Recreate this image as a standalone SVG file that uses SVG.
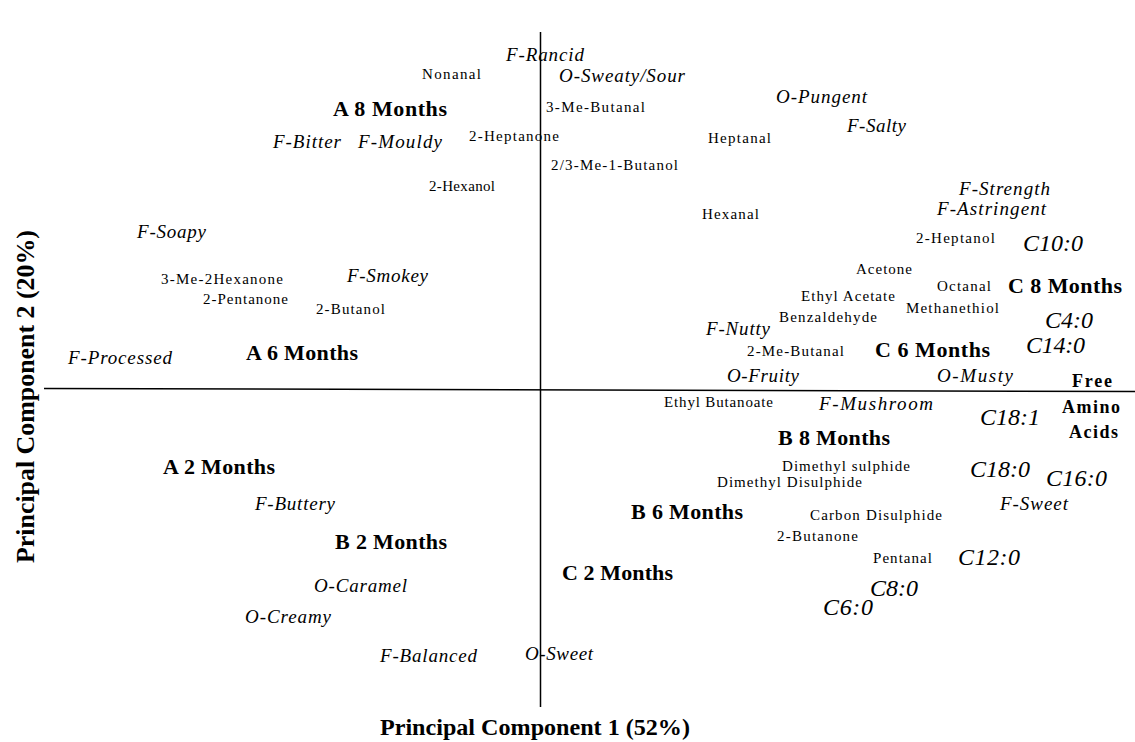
<svg xmlns="http://www.w3.org/2000/svg" width="1135" height="742" viewBox="0 0 1135 742">
<style>
text{font-family:"Liberation Serif","Times New Roman",serif;fill:#000}
.cmp{font-size:15px}
.att{font-size:19px;font-style:italic}
.fa{font-size:24px;font-style:italic}
.grp{font-size:22px;font-weight:bold}
.aa{font-size:18px;font-weight:bold}
.ax{font-size:24px;font-weight:bold}
.axis{stroke:#000;stroke-width:1.5;fill:none}
</style>
<rect width="1135" height="742" fill="#fff"/>
<g id="connectors">
<line class="axis" x1="540.5" y1="32" x2="540.5" y2="707"/>
<line class="axis" x1="44" y1="388.5" x2="1135" y2="391.5"/>
</g>
<g id="axis-x-title"><text class="ax" x="380" y="735" textLength="310" lengthAdjust="spacingAndGlyphs">Principal Component 1 (52%)</text></g>
<g id="axis-y-title"><text class="ax" transform="translate(34,396.5) rotate(-90)" x="0" y="0" text-anchor="middle" style="font-size:26px" textLength="333" lengthAdjust="spacingAndGlyphs">Principal Component 2 (20%)</text></g>

<g id="F-Rancid"><text class="att" x="506" y="61" textLength="78">F-Rancid</text></g>
<g id="Nonanal"><text class="cmp" x="422" y="79" textLength="59">Nonanal</text></g>
<g id="O-Sweaty-Sour"><text class="att" x="559" y="82" textLength="126">O-Sweaty/Sour</text></g>
<g id="A8"><text class="grp" x="333" y="116" textLength="114">A 8 Months</text></g>
<g id="Me3-Butanal"><text class="cmp" x="546" y="112" textLength="99">3-Me-Butanal</text></g>
<g id="O-Pungent"><text class="att" x="776" y="103" textLength="91">O-Pungent</text></g>
<g id="F-Bitter"><text class="att" x="273" y="148" textLength="68">F-Bitter</text></g>
<g id="F-Mouldy"><text class="att" x="358" y="148" textLength="84">F-Mouldy</text></g>
<g id="Heptanone2"><text class="cmp" x="469" y="141" textLength="90">2-Heptanone</text></g>
<g id="Heptanal"><text class="cmp" x="708" y="143" textLength="63">Heptanal</text></g>
<g id="F-Salty"><text class="att" x="847" y="132" textLength="59">F-Salty</text></g>
<g id="Me-Butanol"><text class="cmp" x="551" y="170" textLength="127">2/3-Me-1-Butanol</text></g>
<g id="Hexanol2"><text class="cmp" x="429" y="191" textLength="66">2-Hexanol</text></g>
<g id="F-Strength"><text class="att" x="959" y="195" textLength="91">F-Strength</text></g>
<g id="Hexanal"><text class="cmp" x="702" y="219" textLength="57">Hexanal</text></g>
<g id="F-Astringent"><text class="att" x="937" y="215" textLength="109">F-Astringent</text></g>
<g id="F-Soapy"><text class="att" x="137" y="238" textLength="69">F-Soapy</text></g>
<g id="Heptanol2"><text class="cmp" x="916" y="243" textLength="79">2-Heptanol</text></g>
<g id="C10"><text class="fa" x="1023" y="251" textLength="60">C10:0</text></g>
<g id="F-Smokey"><text class="att" x="347" y="282" textLength="81">F-Smokey</text></g>
<g id="Me3-Hexanone2"><text class="cmp" x="161" y="284" textLength="122">3-Me-2Hexanone</text></g>
<g id="Acetone"><text class="cmp" x="856" y="274" textLength="56">Acetone</text></g>
<g id="Pentanone2"><text class="cmp" x="203" y="304" textLength="85">2-Pentanone</text></g>
<g id="Octanal"><text class="cmp" x="937" y="291" textLength="54">Octanal</text></g>
<g id="C8"><text class="grp" x="1008" y="293" textLength="114">C 8 Months</text></g>
<g id="Ethyl-Acetate"><text class="cmp" x="801" y="301" textLength="94">Ethyl Acetate</text></g>
<g id="Butanol2"><text class="cmp" x="316" y="314" textLength="69">2-Butanol</text></g>
<g id="Methanethiol"><text class="cmp" x="906" y="313" textLength="93">Methanethiol</text></g>
<g id="Benzaldehyde"><text class="cmp" x="779" y="322" textLength="98">Benzaldehyde</text></g>
<g id="C4"><text class="fa" x="1045" y="328" textLength="48">C4:0</text></g>
<g id="F-Nutty"><text class="att" x="706" y="335" textLength="64">F-Nutty</text></g>
<g id="F-Processed"><text class="att" x="68" y="364" textLength="104">F-Processed</text></g>
<g id="A6"><text class="grp" x="246" y="360" textLength="112">A 6 Months</text></g>
<g id="Me2-Butanal"><text class="cmp" x="747" y="356" textLength="97">2-Me-Butanal</text></g>
<g id="C6"><text class="grp" x="875" y="357" textLength="115">C 6 Months</text></g>
<g id="C14"><text class="fa" x="1026" y="353" textLength="59">C14:0</text></g>
<g id="O-Fruity"><text class="att" x="727" y="382" textLength="72">O-Fruity</text></g>
<g id="O-Musty"><text class="att" x="937" y="382" textLength="76">O-Musty</text></g>
<g id="FAA"><text class="aa" x="1072" y="387" textLength="40">Free</text><text class="aa" x="1062" y="413" textLength="58">Amino</text><text class="aa" x="1069" y="438" textLength="49">Acids</text></g>
<g id="Ethyl-Butanoate"><text class="cmp" x="664" y="407" textLength="109">Ethyl Butanoate</text></g>
<g id="F-Mushroom"><text class="att" x="819" y="410" textLength="114">F-Mushroom</text></g>
<g id="C18-1"><text class="fa" x="980" y="425" textLength="60">C18:1</text></g>
<g id="B8"><text class="grp" x="778" y="445" textLength="112">B 8 Months</text></g>
<g id="A2"><text class="grp" x="163" y="474" textLength="112">A 2 Months</text></g>
<g id="Dimethyl-sulphide"><text class="cmp" x="782" y="471" textLength="128">Dimethyl sulphide</text></g>
<g id="C18-0"><text class="fa" x="970" y="477" textLength="60">C18:0</text></g>
<g id="C16"><text class="fa" x="1046" y="486" textLength="61">C16:0</text></g>
<g id="Dimethyl-Disulphide"><text class="cmp" x="717" y="487" textLength="145">Dimethyl Disulphide</text></g>
<g id="F-Buttery"><text class="att" x="255" y="510" textLength="80">F-Buttery</text></g>
<g id="F-Sweet"><text class="att" x="1000" y="510" textLength="68">F-Sweet</text></g>
<g id="B6"><text class="grp" x="631" y="519" textLength="112">B 6 Months</text></g>
<g id="Carbon-Disulphide"><text class="cmp" x="810" y="520" textLength="132">Carbon Disulphide</text></g>
<g id="B2"><text class="grp" x="335" y="549" textLength="112">B 2 Months</text></g>
<g id="Butanone2"><text class="cmp" x="777" y="541" textLength="81">2-Butanone</text></g>
<g id="Pentanal"><text class="cmp" x="873" y="563" textLength="59">Pentanal</text></g>
<g id="C12"><text class="fa" x="958" y="565" textLength="62">C12:0</text></g>
<g id="C2"><text class="grp" x="562" y="580" textLength="111">C 2 Months</text></g>
<g id="O-Caramel"><text class="att" x="314" y="592" textLength="93">O-Caramel</text></g>
<g id="C8-0"><text class="fa" x="870" y="596" textLength="48">C8:0</text></g>
<g id="C6-0"><text class="fa" x="823" y="615" textLength="50">C6:0</text></g>
<g id="O-Creamy"><text class="att" x="245" y="623" textLength="86">O-Creamy</text></g>
<g id="F-Balanced"><text class="att" x="380" y="662" textLength="97">F-Balanced</text></g>
<g id="O-Sweet"><text class="att" x="525" y="660" textLength="68">O-Sweet</text></g>
</svg>
